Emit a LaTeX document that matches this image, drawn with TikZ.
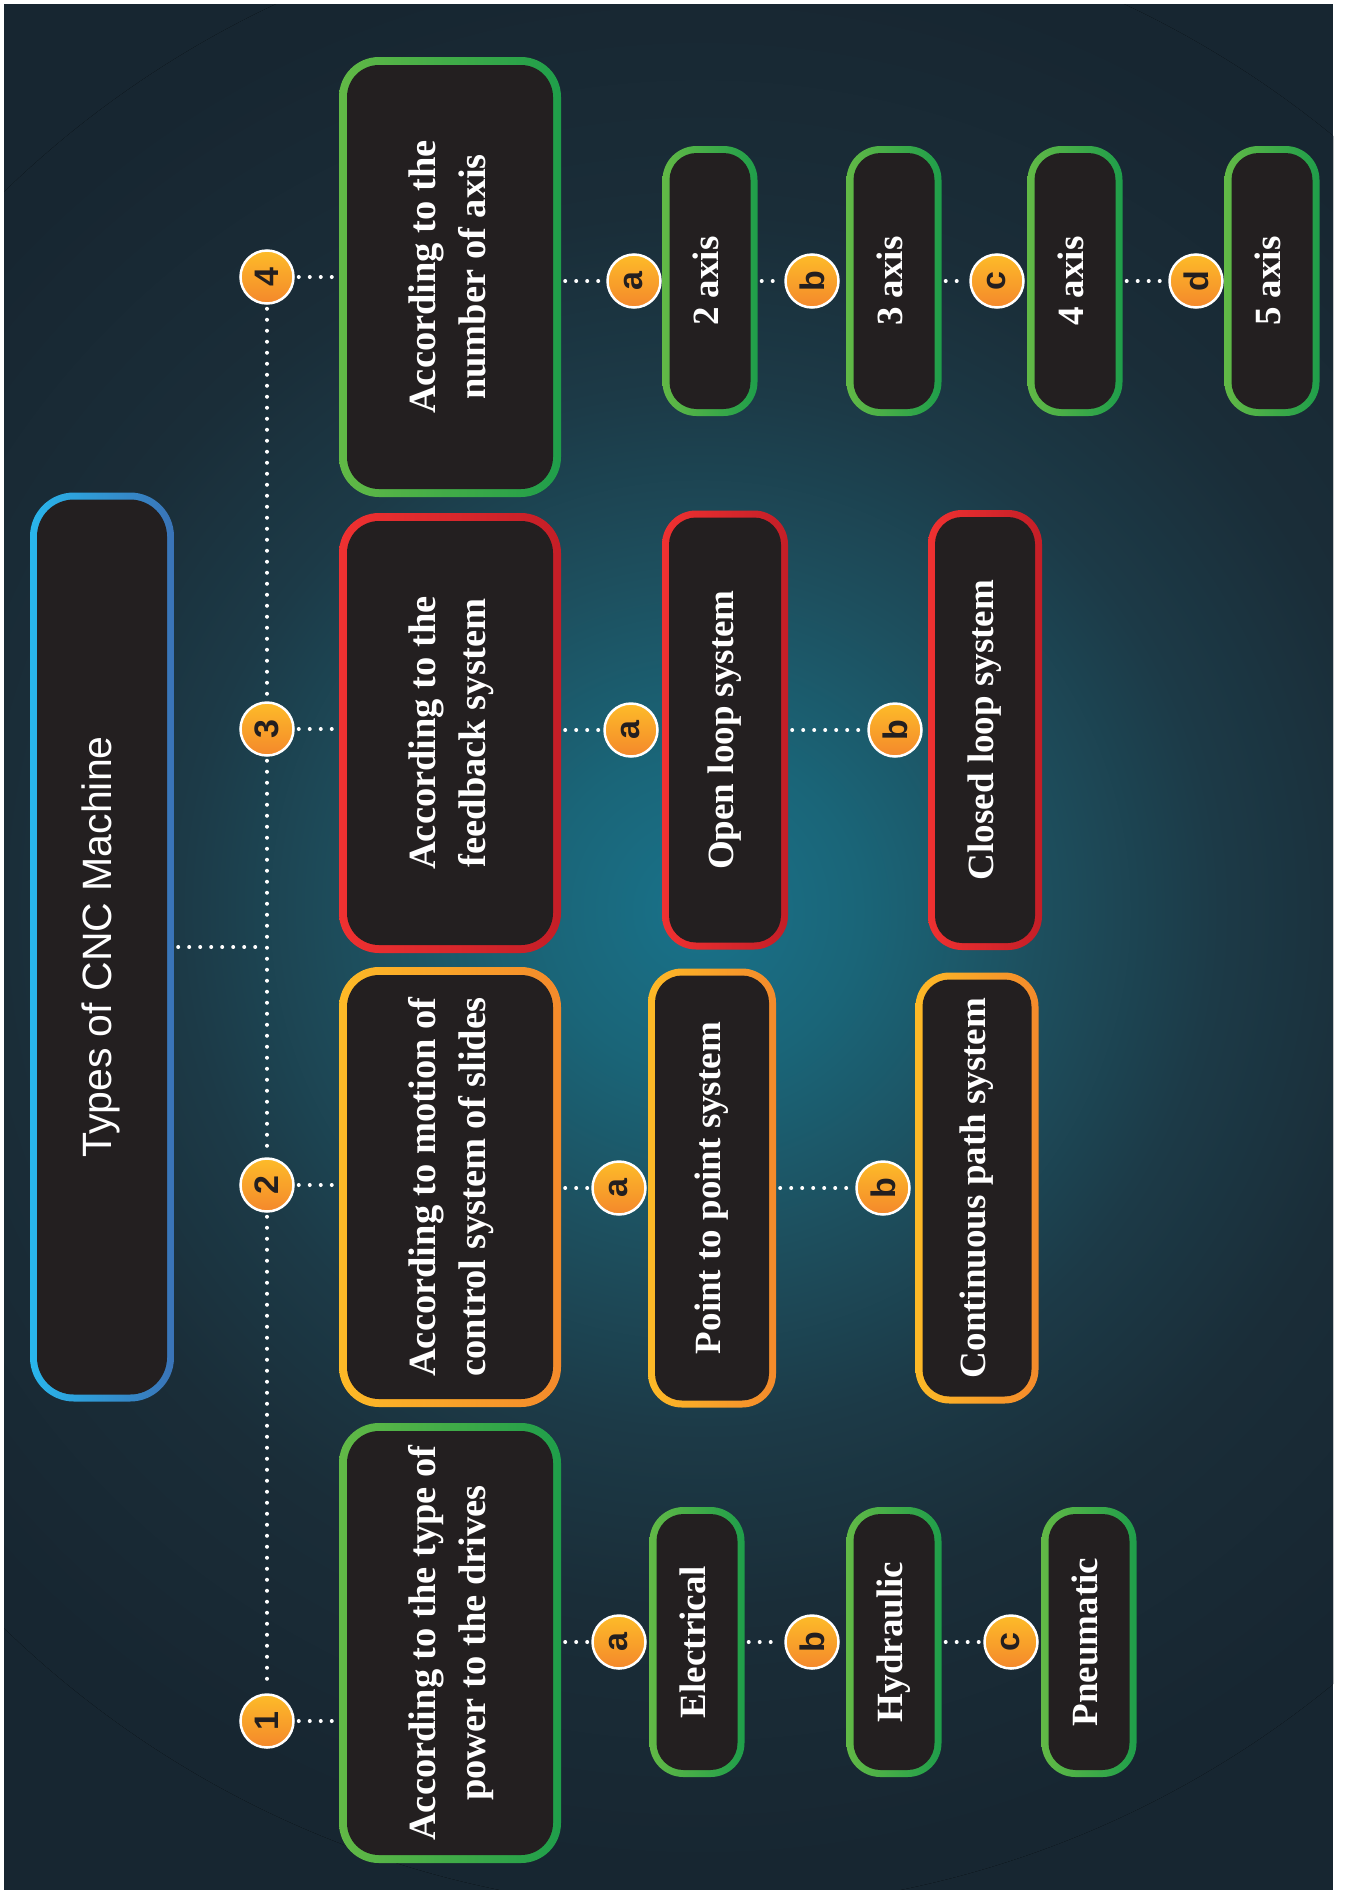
\documentclass[tikz,border=0pt]{standalone}
\usepackage{fontspec}
\usepackage{graphicx}
\setmainfont{Liberation Serif}
\newfontfamily\headfont{Liberation Sans}

\definecolor{bgdark}{HTML}{172631}
\definecolor{ink}{HTML}{231F20}
\definecolor{grA}{HTML}{62B946}
\definecolor{grB}{HTML}{1F9E4A}
\definecolor{orA}{HTML}{FDBA27}
\definecolor{orB}{HTML}{F48A2B}
\definecolor{rdA}{HTML}{EF3131}
\definecolor{rdB}{HTML}{C41E27}
\definecolor{blA}{HTML}{29B6EC}
\definecolor{blB}{HTML}{3A73B7}
\definecolor{padA}{HTML}{FDBB29}
\definecolor{padB}{HTML}{F4882B}
\definecolor{glow0}{HTML}{19728A}
\definecolor{glow1}{HTML}{1A6578}
\definecolor{glow2}{HTML}{1D4F5E}
\definecolor{glow3}{HTML}{1C3A47}
\definecolor{glow4}{HTML}{1A2D38}
% the path box maps onto the inner 50bp, so 25bp is the circle's rim
\pgfdeclareradialshading{glow}{\pgfpoint{0bp}{0bp}}{%
  color(0bp)=(glow0); color(4bp)=(glow1); color(8.5bp)=(glow2);
  color(13bp)=(glow3); color(17.5bp)=(glow4); color(24bp)=(bgdark); color(50bp)=(bgdark)}

\newcommand{\uptext}[1]{\rotatebox{90}{\begin{tabular}{@{}c@{}}#1\end{tabular}}}

\begin{document}
\begin{tikzpicture}[
  x=1pt, y=-1pt,
  rim/.style 2 args={path picture={\fill[ink, rounded corners=#2]
      ([shift={(#1,-#1)}]path picture bounding box.north west) rectangle
      ([shift={(-#1,#1)}]path picture bounding box.south east);}},
  box/.style={rectangle, inner sep=0pt, text=white},
  branch/.style={box, rounded corners=40pt, rim={8pt}{32pt}, minimum width=222pt, minimum height=440pt,
    font=\fontsize{38.5}{50}\selectfont\bfseries},
  leaf/.style={box, rounded corners=34pt, rim={7pt}{27pt}, minimum width=95pt, minimum height=270pt,
    font=\fontsize{37}{44}\selectfont\bfseries},
  gband/.style={left color=grA, right color=grB},
  oband/.style={left color=orA, right color=orB},
  rband/.style={left color=rdA, right color=rdB},
  badge/.style={circle, minimum size=53pt, inner sep=0pt, draw=white, line width=2.5pt,
    top color=padA, bottom color=padB, text=ink, font=\headfont\bfseries\fontsize{34}{34}\selectfont},
  num/.style={badge, font=\headfont\bfseries\fontsize{34}{34}\selectfont},
  dotline/.style={white, line width=4pt, line cap=round, dash pattern=on 0pt off 11pt,
    shorten <=4pt, shorten >=4pt},
]
  \useasboundingbox (0,0) rectangle (1344,1890);

  % ---------------- backdrop
  \fill[white] (0,0) rectangle (1344,1890);
  \fill[bgdark] (4,4) rectangle (1333,1890);
  \begin{scope}
    \clip (4,4) rectangle (1333,1890);
    \fill[shading=glow] (700,910) circle[radius=1000];
  \end{scope}

  % ---------------- title and the four groups
  \node[box, rounded corners=44pt, rim={7pt}{37pt}, minimum width=144pt, minimum height=909pt,
    left color=blA, right color=blB, font=\headfont\fontsize{41}{49}\selectfont] (title) at (102,947)
    {\uptext{Types of CNC Machine}};
  \node[branch, gband] (g1) at (450,1643) {\uptext{According to the type of\\power to the drives}};
  \node[branch, oband] (g2) at (450,1187) {\uptext{According to motion of\\control system of slides}};
  \node[branch, rband] (g3) at (450,733) {\uptext{According to the\\feedback system}};
  \node[branch, gband] (g4) at (450,277) {\uptext{According to the\\number of axis}};
  \foreach \n/\y in {1/1721, 2/1185, 3/729, 4/277}
    \node[num] (n\n) at (267,\y) {\rotatebox{90}{\n}};
  \coordinate (hub) at (n1 |- title);

  % ---------------- the kinds in each group
  \node[leaf, gband] (elec) at (697,1642) {\uptext{Electrical}};
  \node[leaf, gband] (hyd) at (894,1642) {\uptext{Hydraulic}};
  \node[leaf, gband] (pneu) at (1089,1642) {\uptext{Pneumatic}};
  \node[leaf, oband, minimum width=128pt, minimum height=439pt] (ptp) at (712,1188) {\uptext{Point to point system}};
  \node[leaf, oband, minimum width=123pt, minimum height=431pt] (cont) at (977,1188) {\uptext{Continuous path system}};
  \node[leaf, rband, minimum width=126pt, minimum height=439pt] (open) at (725,730) {\uptext{Open loop system}};
  \node[leaf, rband, minimum width=114pt, minimum height=440pt] (closed) at (985,730) {\uptext{Closed loop system}};
  \node[leaf, gband] (ax2) at (710,281) {\uptext{2 axis}};
  \node[leaf, gband] (ax3) at (894,281) {\uptext{3 axis}};
  \node[leaf, gband] (ax4) at (1075,281) {\uptext{4 axis}};
  \node[leaf, gband] (ax5) at (1272,281) {\uptext{5 axis}};
  \foreach \n/\x/\y/\t in {1a/619/1642/a, 1b/812/1642/b, 1c/1011/1642/c, 2a/619/1188/a, 2b/883/1188/b,
      3a/631/730/a, 3b/895/730/b, 4a/634/281/a, 4b/812/281/b, 4c/997/281/c, 4d/1196/281/d}
    \node[badge] (l\n) at (\x,\y) {\rotatebox{90}{\t}};

  % ---------------- dotted links
  \foreach \a/\b in {n4/n3, n3/n2, n2/n1, title/hub, elec/l1b, hyd/l1c, ptp/l2b, open/l3b, ax2/l4b, ax3/l4c, ax4/l4d}
    \draw[dotline] (\a) -- (\b);
  \foreach \g in {1,...,4} {
    \draw[dotline] (n\g) -- (n\g -| g\g.west);
    \draw[dotline] (l\g a -| g\g.east) -- (l\g a);
  }
\end{tikzpicture}
\end{document}
